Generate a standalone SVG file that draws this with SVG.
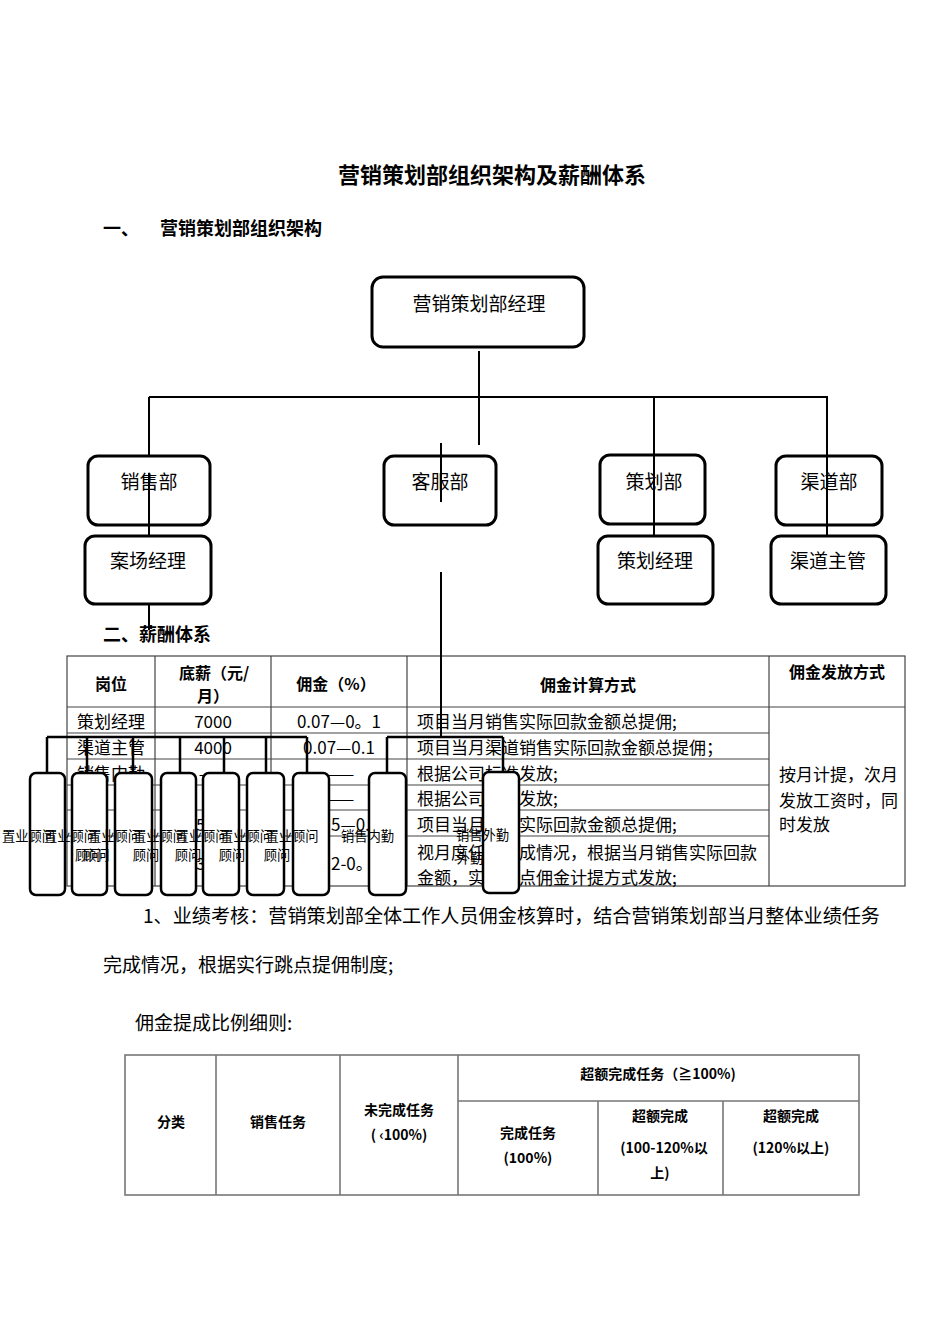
<svg xmlns="http://www.w3.org/2000/svg" width="950" height="1344" viewBox="0 0 950 1344">
<style>
text{font-family:"Noto Sans CJK SC","Noto Sans",sans-serif;fill:#000}
.h1{font-size:22px;font-weight:bold}
.h2{font-size:18px;font-weight:bold}
.p{font-size:19px}
.th{font-size:16px;font-weight:bold}
.td{font-size:17px}
.t2{font-size:14px;font-weight:bold}
.org{font-size:19px}
.lab{font-size:13.3px}
.grid{stroke:#444;stroke-width:1.2;fill:none}
.grid2{stroke:#777;stroke-width:1.6;fill:none}
.big{fill:#fff;stroke:#000;stroke-width:3}
.small{fill:#fff;stroke:#000;stroke-width:2.5}
.conn{stroke:#000;stroke-width:2;fill:none}
.conn2{stroke:#000;stroke-width:2.5;fill:none}
</style>
<rect width="950" height="1344" fill="#fff"/>

<text class="h1" x="492" y="173" text-anchor="middle" dominant-baseline="central">营销策划部组织架构及薪酬体系</text>
<text class="h2" x="103" y="227" dominant-baseline="central">一、</text>
<text class="h2" x="160" y="227" dominant-baseline="central">营销策划部组织架构</text>
<text class="h2" x="103" y="633" dominant-baseline="central">二、薪酬体系</text>

<!-- Table 1 -->
<g id="salary-table">
<rect class="grid" x="67" y="656" width="838" height="230"/>
<path class="grid" d="M155 656V886M271 656V886M407 656V886M769 656V886M67 707H905M67 733H769M67 759H769M67 785H769M67 810H769M67 836H769"/>
<text class="th" x="111" y="683" text-anchor="middle" dominant-baseline="central">岗位</text>
<text class="th" x="214" y="672" text-anchor="middle" dominant-baseline="central">底薪（元/</text>
<text class="th" x="213" y="695" text-anchor="middle" dominant-baseline="central">月）</text>
<text class="th" x="336" y="683" text-anchor="middle" dominant-baseline="central">佣金（%）</text>
<text class="th" x="588" y="684" text-anchor="middle" dominant-baseline="central">佣金计算方式</text>
<text class="th" x="837" y="671" text-anchor="middle" dominant-baseline="central">佣金发放方式</text>
<text class="td" x="111" y="720" text-anchor="middle" dominant-baseline="central">策划经理</text>
<text class="td" x="213" y="720" text-anchor="middle" dominant-baseline="central">7000</text>
<text class="td" x="339" y="720" text-anchor="middle" dominant-baseline="central">0.07—0。1</text>
<text class="td" x="417" y="720" dominant-baseline="central">项目当月销售实际回款金额总提佣;</text>
<text class="td" x="111" y="746" text-anchor="middle" dominant-baseline="central">渠道主管</text>
<text class="td" x="213" y="746" text-anchor="middle" dominant-baseline="central">4000</text>
<text class="td" x="339" y="746" text-anchor="middle" dominant-baseline="central">0.07—0.1</text>
<text class="td" x="417" y="746" dominant-baseline="central">项目当月渠道销售实际回款金额总提佣；</text>
<text class="td" x="111" y="772" text-anchor="middle" dominant-baseline="central">销售内勤</text>
<text class="td" x="213" y="772" text-anchor="middle" dominant-baseline="central">——</text>
<text class="td" x="340" y="772" text-anchor="middle" dominant-baseline="central">——</text>
<text class="td" x="417" y="772" dominant-baseline="central">根据公司标准发放;</text>
<text class="td" x="340" y="797" text-anchor="middle" dominant-baseline="central">——</text>
<text class="td" x="417" y="797" dominant-baseline="central">根据公司标准发放;</text>
<text class="td" x="196" y="823" dominant-baseline="central">5</text>
<text class="td" x="331" y="823" dominant-baseline="central">5—0.</text>
<text class="td" x="417" y="823" dominant-baseline="central">项目当月销售实际回款金额总提佣;</text>
<text class="td" x="196" y="862" dominant-baseline="central">3</text>
<text class="td" x="331" y="862" dominant-baseline="central">2-0。</text>
<text class="td" x="417" y="851" dominant-baseline="central">视月度任务完成情况，根据当月销售实际回款</text>
<text class="td" x="417" y="876" dominant-baseline="central">金额，实行跳点佣金计提方式发放;</text>
<text class="td" x="779" y="773" dominant-baseline="central">按月计提，次月</text>
<text class="td" x="779" y="799" dominant-baseline="central">发放工资时，同</text>
<text class="td" x="779" y="823" dominant-baseline="central">时发放</text>
</g>

<text class="p" x="143" y="914" dominant-baseline="central" textLength="737" lengthAdjust="spacingAndGlyphs">1、业绩考核：营销策划部全体工作人员佣金核算时，结合营销策划部当月整体业绩任务</text>
<text class="p" x="103" y="963" dominant-baseline="central">完成情况，根据实行跳点提佣制度;</text>
<text class="p" x="135" y="1021" dominant-baseline="central">佣金提成比例细则:</text>

<!-- Table 2 -->
<g id="ratio-table">
<rect class="grid2" x="125" y="1055" width="734" height="140"/>
<path class="grid2" d="M216 1055V1195M340 1055V1195M458 1055V1195M598 1101V1195M723 1101V1195M458 1101H859"/>
<text class="t2" x="171" y="1121" text-anchor="middle" dominant-baseline="central">分类</text>
<text class="t2" x="278" y="1121" text-anchor="middle" dominant-baseline="central">销售任务</text>
<text class="t2" x="399" y="1109" text-anchor="middle" dominant-baseline="central">未完成任务</text>
<text class="t2" x="399" y="1134" text-anchor="middle" dominant-baseline="central">( ‹100%)</text>
<text class="t2" x="658" y="1073" text-anchor="middle" dominant-baseline="central">超额完成任务（≧100%)</text>
<text class="t2" x="528" y="1132" text-anchor="middle" dominant-baseline="central">完成任务</text>
<text class="t2" x="528" y="1157" text-anchor="middle" dominant-baseline="central">(100%)</text>
<text class="t2" x="660" y="1115" text-anchor="middle" dominant-baseline="central">超额完成</text>
<text class="t2" x="664" y="1147" text-anchor="middle" dominant-baseline="central">(100-120%以</text>
<text class="t2" x="660" y="1172" text-anchor="middle" dominant-baseline="central">上)</text>
<text class="t2" x="791" y="1115" text-anchor="middle" dominant-baseline="central">超额完成</text>
<text class="t2" x="791" y="1147" text-anchor="middle" dominant-baseline="central">(120%以上)</text>
</g>

<!-- Org chart nodes -->
<g id="n-manager"><rect class="big" x="372" y="277" width="212" height="70" rx="11"/><text class="org" x="479" y="302" text-anchor="middle" dominant-baseline="central">营销策划部经理</text></g>
<g id="n-sales"><rect class="big" x="88" y="456" width="122" height="69" rx="10"/><text class="org" x="149" y="480" text-anchor="middle" dominant-baseline="central">销售部</text></g>
<g id="n-service"><rect class="big" x="384" y="456" width="112" height="69" rx="10"/><text class="org" x="440" y="480" text-anchor="middle" dominant-baseline="central">客服部</text></g>
<g id="n-plan"><rect class="big" x="600" y="455" width="105" height="69" rx="10"/><text class="org" x="654" y="480" text-anchor="middle" dominant-baseline="central">策划部</text></g>
<g id="n-channel"><rect class="big" x="776" y="456" width="106" height="69" rx="10"/><text class="org" x="829" y="480" text-anchor="middle" dominant-baseline="central">渠道部</text></g>
<g id="n-site"><rect class="big" x="85" y="536" width="126" height="68" rx="10"/><text class="org" x="148" y="559" text-anchor="middle" dominant-baseline="central">案场经理</text></g>
<g id="n-planmgr"><rect class="big" x="598" y="536" width="115" height="68" rx="10"/><text class="org" x="655" y="559" text-anchor="middle" dominant-baseline="central">策划经理</text></g>
<g id="n-chmgr"><rect class="big" x="771" y="536" width="115" height="68" rx="10"/><text class="org" x="828" y="559" text-anchor="middle" dominant-baseline="central">渠道主管</text></g>

<!-- small boxes -->
<g id="n-c1"><rect class="small" x="30" y="773" width="35" height="122" rx="6"/><text class="lab" x="28.5" y="835" text-anchor="middle" dominant-baseline="central">置业顾问</text></g>
<g id="n-c2"><rect class="small" x="72" y="773" width="35" height="122" rx="6"/><text class="lab" x="70.5" y="835" text-anchor="middle" dominant-baseline="central">置业顾问</text><text class="lab" x="75" y="854" dominant-baseline="central">顾问</text><text class="lab" x="83" y="854" dominant-baseline="central">顾问</text></g>
<g id="n-c3"><rect class="small" x="115" y="773" width="37" height="122" rx="6"/><text class="lab" x="114.5" y="835" text-anchor="middle" dominant-baseline="central">置业顾问</text><text class="lab" x="146" y="854" text-anchor="middle" dominant-baseline="central">顾问</text></g>
<g id="n-c4"><rect class="small" x="161" y="773" width="35" height="122" rx="6"/><text class="lab" x="159.5" y="835" text-anchor="middle" dominant-baseline="central">置业顾问</text><text class="lab" x="188" y="854" text-anchor="middle" dominant-baseline="central">顾问</text></g>
<g id="n-c5"><rect class="small" x="203" y="773" width="36" height="122" rx="6"/><text class="lab" x="202" y="835" text-anchor="middle" dominant-baseline="central">置业顾问</text><text class="lab" x="232" y="854" text-anchor="middle" dominant-baseline="central">顾问</text></g>
<g id="n-c6"><rect class="small" x="247" y="773" width="37" height="122" rx="6"/><text class="lab" x="246.5" y="835" text-anchor="middle" dominant-baseline="central">置业顾问</text><text class="lab" x="277" y="854" text-anchor="middle" dominant-baseline="central">顾问</text></g>
<g id="n-c7"><rect class="small" x="293" y="773" width="36" height="122" rx="6"/><text class="lab" x="292" y="835" text-anchor="middle" dominant-baseline="central">置业顾问</text></g>
<g id="n-inner"><rect class="small" x="369" y="773" width="37" height="122" rx="6"/><text class="lab" x="367.5" y="835" text-anchor="middle" dominant-baseline="central">销售内勤</text></g>
<g id="n-outer"><rect class="small" x="483" y="772" width="36" height="121" rx="6"/><text class="lab" x="482.5" y="834" text-anchor="middle" dominant-baseline="central">销售外勤</text><text class="lab" x="470" y="857" text-anchor="middle" dominant-baseline="central">外勤</text></g>

<!-- connectors -->
<g id="connectors">
<path class="conn" d="M479 351V445M149 397H828M149 397V456M149 473V536M149 605V630M654 397V536M827 397V536M441 443V502M441 572V737"/>
<path class="conn2" d="M47 737H307M47 737V773M87 737V773M133 737V773M180 737V773M224 737V773M266 737V773M307 737V773M387 737H503M387 737V773M503 737V772"/>
</g>
</svg>
